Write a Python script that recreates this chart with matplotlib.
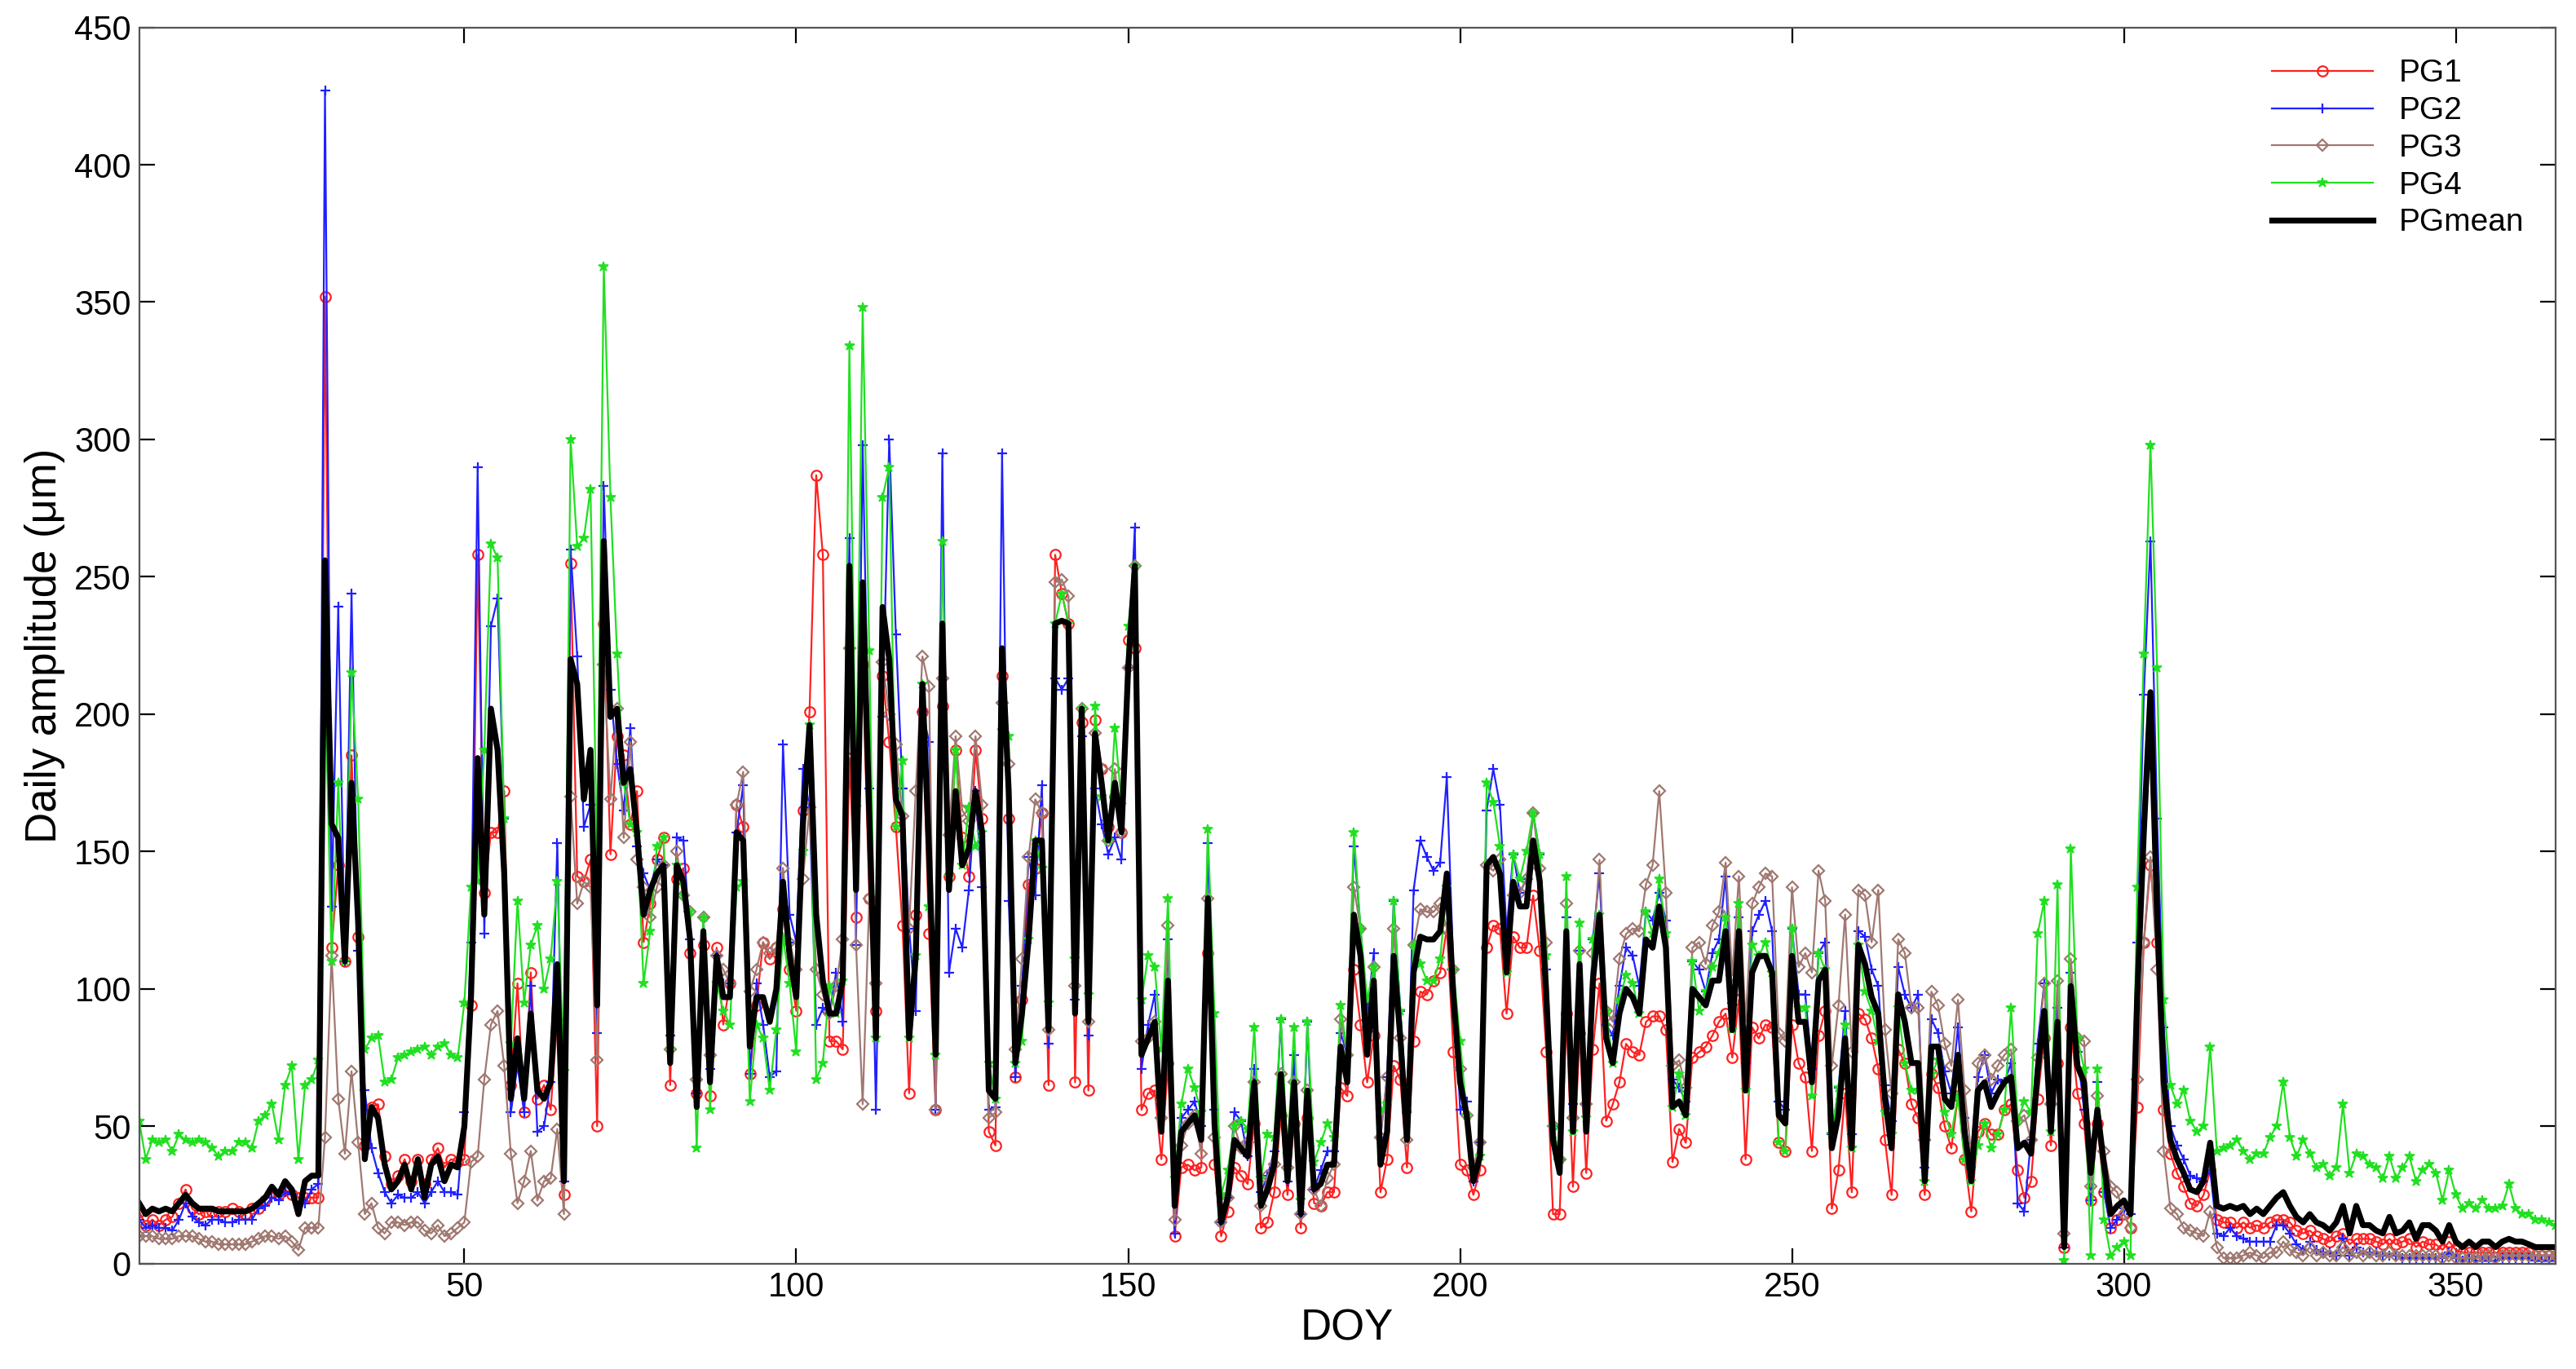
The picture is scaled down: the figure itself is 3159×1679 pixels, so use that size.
import numpy as np
import matplotlib
matplotlib.use("Agg")
import matplotlib.pyplot as plt

plt.rcParams['font.family'] = ['Liberation Sans', 'DejaVu Sans']

doy = np.arange(1, 366)

pg_mean = [
22,18,20,19,20,19,22,25,22,20,
20,20,19,19,19,19,19,20,22,24,
28,25,30,27,18,30,32,32,256,160,
155,110,175,124,38,57,53,36,27,30,
36,27,38,24,36,39,30,36,35,50,
97,184,127,202,187,142,60,82,60,91,
63,60,66,109,30,220,211,169,187,94,
263,199,202,175,180,157,127,136,142,145,
73,145,139,118,57,121,66,112,97,97,
157,154,79,97,97,88,100,139,112,97,
160,196,127,103,91,91,103,254,136,248,
163,82,239,220,169,163,82,112,211,150,
76,233,136,172,145,151,172,157,63,60,
224,172,73,91,118,154,154,85,233,234,
233,91,202,88,193,175,154,175,157,217,
254,76,82,88,48,103,21,48,51,54,
45,133,51,15,24,45,42,39,66,21,
27,36,69,30,66,18,63,27,29,36,
36,79,66,127,112,76,103,36,48,112,
82,45,106,119,118,118,121,142,97,66,
54,30,39,145,148,142,106,139,130,130,
154,139,97,45,33,121,48,109,48,103,
127,82,73,91,100,97,91,118,115,130,
115,57,59,54,100,97,94,103,103,121,
85,121,63,106,112,112,106,54,51,112,
88,88,66,103,107,42,54,82,42,116,
109,97,91,60,42,98,88,73,73,30,
79,79,60,57,76,48,30,63,66,57,
62,66,68,42,44,40,70,92,48,88,
6,101,72,66,33,56,36,18,21,23,
18,97,157,208,127,66,45,38,33,27,
26,30,44,21,20,21,20,21,18,20,
18,21,24,26,21,17,15,18,15,14,
12,15,21,11,21,14,14,12,11,17,
11,12,15,9,14,14,12,8,14,8,
6,8,6,8,8,6,8,9,8,8,
7,6,6,6,6]

dev_pg1 = [
-3,-4,-4,-5,-4,-2,0,2,-2,-2,
-1,-1,0,0,1,0,-1,0,-2,-1,
-2,0,-3,-2,6,-6,-8,-8,96,-45,
-10,0,10,-5,5,0,5,3,2,2,
2,3,0,5,2,3,5,2,2,-12,
-3,74,8,-45,-30,30,5,20,-5,15,
-3,5,-10,-20,-5,35,-70,-30,-40,-44,
-30,-50,-10,10,-20,15,-10,-5,5,10,
-8,-5,5,-5,5,-5,-5,3,-10,5,
10,5,-10,-3,20,23,15,-10,-5,-5,
5,5,160,155,-10,-10,-25,-70,-10,-30,
-30,10,-25,-30,-10,-40,-20,15,-10,-30,
-20,-30,5,15,10,-10,15,5,-15,-17,
-10,-10,-5,5,20,-10,10,-20,25,10,
0,-25,-5,-25,5,5,5,-5,0,10,
-30,-20,-20,-25,-10,-30,-11,-13,-15,-20,
-10,-20,-15,-5,-5,-10,-10,-10,-15,-8,
-12,-10,-15,-5,-15,-5,-10,-5,-8,-10,
-10,-15,-5,-20,-25,-10,-20,-10,-10,-40,
-15,-10,-25,-20,-20,-15,-15,-20,-20,-30,
-20,-5,-5,-30,-25,-20,-15,-20,-15,-15,
-20,-25,-20,-27,-15,-30,-20,-25,-15,-25,
-25,-30,-15,-25,-20,-20,-15,-30,-25,-40,
-30,-20,-10,-10,-25,-20,-15,-20,-15,-30,
-10,-25,-25,-20,-30,-25,-20,-10,-10,-25,
-15,-20,-25,-20,-15,-22,-20,-20,-16,-25,
-20,-15,-20,-15,-17,-20,-15,-15,-20,-5,
-10,-15,-10,-15,-15,-10,-11,-15,-15,-10,
-15,-10,-10,-8,-20,-10,-10,-10,-5,-15,
0,-15,-10,-15,-10,-5,-10,-5,-5,-5,
-5,-40,-40,-63,-10,-10,-5,-5,-5,-5,
-5,-5,-10,-5,-5,-6,-7,-6,-5,-6,
-5,-6,-8,-10,-6,-5,-4,-6,-5,-5,
-4,-5,-10,-4,-12,-5,-5,-4,-4,-8,
-4,-4,-6,-3,-6,-7,-5,-3,-6,-3,
-2,-4,-2,-4,-4,-2,-4,-5,-4,-4,
-3,-3,-3,-3,-3]

dev_pg2 = [
-6,-5,-6,-6,-7,-7,-6,-3,-5,-5,
-6,-4,-3,-4,-4,-3,-3,-4,-2,-3,
-4,-2,-4,-2,3,-8,-5,-3,171,-30,
84,0,69,-10,25,-15,-20,-10,-5,-5,
-12,-3,-12,-2,-10,-9,-4,-10,-10,5,
20,106,-7,30,55,20,-5,-10,-5,10,
-15,-10,0,44,0,40,10,-10,-20,-10,
20,10,-20,-10,15,-5,15,0,5,0,
10,10,15,0,5,5,5,0,5,5,
0,20,-10,5,-10,-20,-30,50,15,20,
20,-30,-40,-10,0,15,-15,10,-20,50,
10,-26,-40,80,60,10,40,-20,-10,40,
-20,62,-30,-50,-30,-15,0,-20,-7,-3,
71,-40,-5,10,30,-20,20,-5,-20,-25,
-20,5,-10,-5,-20,-15,-5,-20,-10,0,
14,-5,5,10,10,15,-10,5,5,5,
5,20,5,0,0,10,10,0,5,5,
5,5,20,0,10,0,25,0,5,5,
5,5,10,25,10,15,10,10,20,20,
10,10,30,35,30,25,25,35,10,-10,
5,0,5,20,32,25,15,10,5,10,
10,10,10,5,5,5,10,5,10,15,
15,5,10,10,15,15,10,10,10,5,
10,10,5,5,10,10,5,10,15,20,
10,5,10,15,15,20,15,5,5,10,
10,10,5,10,10,5,10,10,5,5,
10,10,10,5,10,10,10,20,25,5,
10,5,10,5,10,5,5,5,10,5,
5,0,5,-20,-25,5,10,10,10,5,
0,5,5,-10,-10,10,-10,-5,-5,-3,
0,20,50,55,35,20,5,5,5,5,
5,0,-10,-10,-10,-8,-10,-12,-10,-12,
-10,-13,-10,-12,-10,-10,-10,-10,-10,-10,
-8,-12,-12,-8,-15,-10,-10,-8,-8,-14,
-8,-10,-13,-7,-12,-12,-10,-6,-10,-6,
-5,-6,-5,-7,-7,-5,-6,-7,-6,-6,
-5,-5,-5,-5,-5]

dev_pg3 = [
-12,-8,-10,-10,-11,-10,-12,-15,-12,-11,
-12,-12,-12,-12,-12,-12,-12,-12,-13,-14,
-18,-16,-20,-19,-13,-17,-19,-19,-210,-48,
-95,-70,-105,-80,-20,-35,-40,-25,-12,-15,
-22,-12,-23,-12,-25,-25,-20,-25,-22,-35,
-60,-145,-60,-115,-95,-70,-20,-60,-30,-50,
-40,-30,-35,-60,-12,-50,-80,-30,-50,-20,
-45,-30,0,-20,10,-10,10,-10,-5,0,
5,5,-5,10,10,5,10,0,10,5,
10,25,20,10,20,25,15,5,5,10,
-20,-30,-20,-5,0,10,15,-30,-20,-190,
-30,20,-20,-20,20,0,40,60,10,60,
-20,-20,20,20,20,10,20,10,-10,-5,
-20,10,5,20,30,15,10,0,15,15,
10,10,0,0,0,5,0,5,0,0,
0,5,0,0,5,20,-5,-5,0,0,
-5,0,-5,0,0,5,0,5,0,0,
5,0,0,5,0,0,0,0,-8,-5,
0,10,10,10,10,10,5,10,20,10,
0,0,10,10,10,10,10,-20,10,5,
0,5,5,0,-5,5,10,-5,5,10,
10,5,20,5,5,10,5,5,10,10,
20,10,15,20,20,25,30,20,30,42,
20,15,15,10,15,20,15,20,25,25,
20,20,25,25,25,30,35,30,30,25,
20,25,40,40,25,30,40,45,35,20,
25,20,45,25,20,20,25,20,20,15,
20,15,20,15,20,15,10,10,10,10,
10,10,10,10,10,5,5,10,10,15,
5,10,10,15,-5,5,5,10,5,-5,
-5,-30,-40,-60,-20,-25,-25,-20,-20,-15,
-15,-20,-25,-15,-18,-19,-18,-18,-14,-17,
-16,-17,-20,-18,-16,-13,-12,-12,-12,-10,
-9,-12,-15,-8,-17,-11,-10,-9,-8,-13,
-8,-9,-12,-6,-11,-11,-9,-6,-11,-6,
-4,-6,-4,-5,-5,-4,-5,-6,-5,-5,
-4,-3,-3,-3,-3]

dev_pg4 = [
30,20,25,25,25,22,25,20,22,25,
24,22,20,22,22,25,25,22,30,30,
30,20,35,45,20,35,35,42,-40,-50,
20,0,40,45,40,25,30,30,40,45,
40,50,40,55,40,40,50,40,40,45,
40,-45,60,60,70,20,20,50,35,25,
60,40,45,30,40,80,50,95,95,50,
100,80,20,0,-20,0,-25,-15,10,10,
5,0,-5,10,-15,5,-10,-10,-5,-10,
-20,-15,-20,-10,-15,-25,-15,-20,-10,-20,
-10,0,-60,-30,10,0,0,80,30,100,
60,0,40,70,-10,20,0,0,0,-20,
0,30,5,15,0,15,-20,0,10,0,
-30,20,0,-10,0,0,-10,10,0,10,
0,20,0,10,10,-5,0,20,10,15,
0,20,30,20,30,30,10,10,20,10,
10,25,40,10,10,5,10,10,20,10,
20,10,20,10,20,5,25,10,15,15,
10,15,10,30,10,20,5,20,10,20,
10,10,10,-10,-15,-15,-10,-5,10,15,
0,5,0,30,20,10,0,10,10,20,
10,10,15,5,5,20,0,15,5,15,
0,10,0,5,5,5,0,10,5,10,
5,0,10,0,10,-5,5,5,10,5,
0,10,0,10,0,5,0,-10,-10,10,
5,5,-5,10,0,5,10,5,0,0,
-10,-5,-10,-5,5,-5,-15,-10,-10,0,
-10,-5,-5,-10,-15,-10,0,-20,-15,-15,
-15,-10,25,10,15,15,50,40,0,50,
-5,50,10,5,-30,15,-20,-15,-15,-15,
-15,40,65,90,90,30,20,20,30,25,
22,20,35,20,22,22,25,20,20,20,
22,25,26,40,25,22,30,22,20,22,
20,20,37,22,19,25,22,23,20,22,
20,23,24,21,20,22,21,15,20,17,
14,14,14,15,12,14,13,20,12,10,
11,10,10,9,8]

m = np.array(pg_mean, float)
pg1 = np.clip(m + np.array(dev_pg1), 1, None)
pg2 = np.clip(m + np.array(dev_pg2), 1, None)
pg3 = np.clip(m + np.array(dev_pg3), 1, None)
pg4 = np.clip(m + np.array(dev_pg4), 1, None)

fig = plt.figure(figsize=(15.795, 8.395), dpi=200)
ax = fig.add_axes([0.054, 0.077, 0.938, 0.903])

ms = 4.5
lw = 0.8
ax.plot(doy, pg1, color='#ff2020', lw=lw, marker='o', mfc='none', ms=ms, mew=0.8, label='PG1')
ax.plot(doy, pg2, color='#2020ff', lw=lw, marker='+', ms=ms, mew=0.8, label='PG2')
ax.plot(doy, pg3, color='#a07870', lw=lw, marker='D', mfc='none', ms=3.5, mew=0.8, label='PG3')
ax.plot(doy, pg4, color='#20e020', lw=lw, marker='*', ms=ms, mew=0.6, label='PG4')
ax.plot(doy, m, color='black', lw=2.6, label='PGmean')

ax.set_xlim(1, 365)
ax.set_ylim(0, 450)
ax.set_xticks([50, 100, 150, 200, 250, 300, 350])
ax.set_yticks(np.arange(0, 451, 50))
ax.tick_params(direction='in', top=True, right=True, labelsize=15, length=7)
for s in ax.spines.values():
    s.set_color('#555555')
ax.set_xlabel('DOY', fontsize=19, labelpad=2)
ax.set_ylabel('Daily amplitude (μm)', fontsize=19)
ax.legend(loc='upper right', frameon=False, fontsize=14, handlelength=3.2,
          labelspacing=0.25, borderaxespad=0.6)

fig.savefig('out.png', dpi=200)
